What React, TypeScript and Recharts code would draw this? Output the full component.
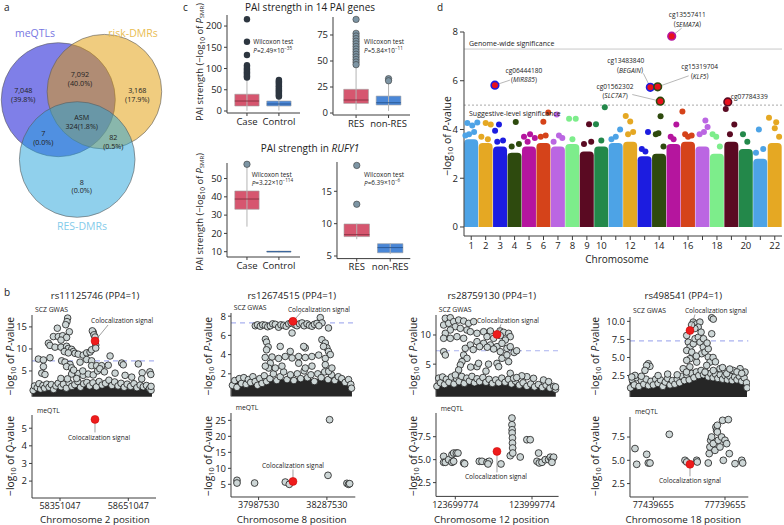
import React from 'react';
import {
  ComposedChart, ScatterChart, Scatter, XAxis, YAxis, Bar, Cell, Area,
  ReferenceLine, ReferenceArea,
} from 'recharts';

const FONT = '"Open Sans", "Noto Sans", "DejaVu Sans", sans-serif';
const AX = '#3c3c3c';
const TXT = '#222';

// ---------------- Panel a: Venn ----------------
const vennSets = ['meQTLs', 'risk-DMRs', 'RES-DMRs'];
const vennCx = [58.3, 104.4, 77.2];
const vennCy = [99.7, 91.7, 159.5];
const vennR = [57, 57.3, 57.8];
const vennFill = ['#0000d2', '#e19900', '#21a1d9'];
const vennNameColor = ['#7676e2', '#e9bd52', '#84cbea'];
const vennLine1 = ['7,048', '7,092', '3,168', 'ASM', '7', '82', '8'];
const vennLine2 = ['(39.8%)', '(40.0%)', '(17.9%)', '324(1.8%)', '(0.0%)', '(0.5%)', '(0.0%)'];
// annotation layout (chart is 1 unit = 1 px)
const vennNamePos = [[35, 33], [133, 33], [82, 226]];
const vennTextPos = [[23.3, 90], [80, 74.3], [137.3, 90], [81.7, 117.3], [43.3, 133.3], [113.3, 137.3], [81.7, 181.7]];

// ---------------- Panel c: box plots ----------------
const caseCtrl = ['Case', 'Control'];
const resNon = ['RES', 'non-RES'];
// [min, q1, median, q3, max]
const pai14CCStats = [[0.5, 11.8, 23.5, 39.5, 77], [1, 11.8, 16.5, 23.5, 33]];
const pai14CCOut = [[216, 163, 132, 108, 104, 100, 97, 94, 91, 88, 85, 82, 79], [73, 70, 67, 64, 61, 58, 55, 52, 49, 46, 43, 40, 37, 34]];
const pai14RNStats = [[3, 9.3, 12.5, 22.8, 44], [2, 7.7, 9.9, 16.3, 28]];
const pai14RNOut = [[90, 76.6, 74, 71.5, 69, 66.5, 64, 61.5, 59, 56.5, 54, 51.5, 49, 46.5], [33, 31]];
const rufyCCStats = [[23.7, 33.2, 38.8, 43.2, 56.4], [9.6, 9.8, 10.0, 10.3, 10.5]];
const rufyCCOut = [[57.8], []];
const rufyRNStats = [[7.6, 8.0, 8.3, 9.95, 10.0], [5.3, 5.5, 6.3, 6.9, 7.0]];
const rufyRNOut = [[19.0, 13.0], []];
const wilcoxP = [['2.49', '−35'], ['5.84', '−11'], ['3.22', '−114'], ['6.39', '−6']];

// ---------------- Panel d: Manhattan ----------------
const chromosomes = ['1', '2', '3', '4', '5', '6', '7', '8', '9', '10', '11', '12', '13', '14', '15', '16', '17', '18', '19', '20', '21', '22'];
const chrDenseTop = [3.6, 3.45, 3.3, 3.05, 3.3, 3.45, 3.3, 3.4, 3.1, 3.3, 3.45, 3.5, 2.9, 3.0, 3.4, 3.5, 3.3, 3.0, 3.5, 3.2, 2.8, 3.45];
const chrPalette = ['#4da3e6', '#e5a823', '#1c1ce0', '#2e4a0e', '#b5159e', '#d5431a', '#bb66e2', '#7ded8b', '#5a0a22', '#23884a'];
// [chromosome, relative position within chromosome, -log10 P]
const manhattanPts = [
  [1, 0.23, 4.27], [1, 0.57, 4.16], [1, 0.92, 4.29], [1, 0.35, 3.8], [1, 0.7, 3.9], [1, 0.1, 3.75],
  [2, 0.5, 4.27], [2, 0.85, 4.2], [2, 0.2, 3.7], [2, 0.65, 3.6],
  [3, 0.42, 4.2], [3, 0.15, 3.95], [3, 0.7, 3.55], [3, 0.3, 3.5],
  [4, 0.58, 4.31], [4, 0.3, 3.3], [4, 0.8, 3.4],
  [5, 0.57, 3.8], [5, 0.15, 3.7], [5, 0.9, 3.65], [5, 0.4, 3.5],
  [6, 0.83, 4.7], [6, 0.49, 4.32], [6, 0.31, 3.7], [6, 0.65, 3.75],
  [7, 0.42, 4.61], [7, 0.57, 3.75], [7, 0.8, 3.65], [7, 0.2, 3.5],
  [8, 0.27, 4.44], [8, 0.73, 4.44], [8, 0.5, 3.6],
  [9, 0.65, 4.22], [9, 0.3, 3.4], [9, 0.8, 3.5],
  [10, 0.74, 4.91], [10, 0.13, 4.22], [10, 0.5, 3.55],
  [11, 0.5, 3.7], [11, 0.8, 4.0], [11, 0.2, 3.6],
  [12, 0.19, 4.55], [12, 0.5, 4.33], [12, 0.7, 3.9], [12, 0.35, 3.8],
  [13, 0.73, 3.9], [13, 0.3, 3.2], [13, 0.55, 3.1],
  [14, 0.6, 4.54], [14, 0.27, 3.8], [14, 0.45, 3.85], [14, 0.8, 3.3],
  [15, 0.69, 4.2], [15, 0.3, 3.7], [15, 0.5, 3.6],
  [16, 0.11, 4.74], [16, 0.3, 3.8], [16, 0.5, 3.7], [16, 0.75, 3.75],
  [17, 0.7, 4.37], [17, 0.3, 3.8], [17, 0.6, 3.9], [17, 0.85, 4.1],
  [18, 0.2, 3.8], [18, 0.45, 3.7], [18, 0.7, 3.3],
  [19, 0.11, 4.84], [19, 0.7, 4.2], [19, 0.4, 3.8],
  [20, 0.3, 3.8], [20, 0.6, 3.5],
  [21, 0.4, 4.0], [21, 0.7, 3.2], [21, 0.2, 3.05],
  [22, 0.1, 4.48], [22, 0.5, 4.05], [22, 0.6, 4.3], [22, 0.8, 3.7],
];
const hlProbe = ['cg13557411', 'cg06444180', 'cg13483840', 'cg15319704', 'cg01562302', 'cg07784339'];
const hlGene = ['SEMA7A', 'MIR885', 'BEGAIN', 'KLF5', 'SLC7A7', ''];
const hlChr = [15, 3, 13, 14, 14, 19];
const hlRel = [0.37, 0.14, 0.89, 0.4, 0.58, 0.25];
const hlVal = [7.83, 5.82, 5.73, 5.75, 5.16, 5.13];
// label layout offsets in px: probe text, gene text, leader end, anchor
const hlLayout = [
  { px: 15.6, py: -21.8, gx: 15.6, gy: -12.6, lx: 10, ly: -8, a: 'middle' },
  { px: 29, py: -15, gx: 29, gy: -5.8, lx: 15, ly: -5, a: 'middle' },
  { px: -24.6, py: -27, gx: -20.3, gy: -17.8, lx: -7, ly: -14, a: 'middle' },
  { px: 42, py: -20.4, gx: 42, gy: -11.2, lx: 31, ly: -11, a: 'middle' },
  { px: -45.3, py: -15.2, gx: -45.3, gy: -6, lx: -28, ly: -6.7, a: 'middle' },
  { px: 3, py: -5.6, gx: 3, gy: -5.6, lx: 0, ly: 0, a: 'start' },
];
const GWS = 7.3;
const SUGG = 5;

// ---------------- Panel b: colocalization loci ----------------
const locusIds = ['rs11125746', 'rs12674515', 'rs28759130', 'rs498541'];
const locusChr = [2, 8, 12, 18];
const locusBase = [58351047, 37987530, 123699774, 77439655];
const gwasTicks = [[0, 5, 10, 15], [0, 2, 4, 6, 8], [0, 5, 10], [0, 2.5, 5, 7.5, 10]];
const qtlTicks = [[2, 3, 4, 5], [5, 10, 15, 20, 25], [2.5, 5, 7.5], [2.5, 5, 7.5]];
const gwasDec = [0, 0, 0, 1];
const qtlDec = [0, 0, 1, 1];
// x in kb relative to the first labelled position
const gwasLead = [[154, 11.8], [151, 7.46], [163, 10.1], [153.5, 8.73]];
const qtlLead = [[153.7, 5.5], [151, 5.9], [163, 5.9], [153.5, 4.57]];

const gwasSparse = [
  [[33.6, 17.0], [30.7, 16.2], [25, 15.5], [-11.7, 14.7], [41, 13.9], [-29, 12.8], [-7.3, 12.8], [11.7, 13.0], [29, 12.6], [4.4, 12.0], [-51, 11.3], [-44, 10.8], [-22, 10.4], [4.4, 10.4], [29, 10.6], [36.5, 10.1], [51, 9.9], [58.5, 9.4], [66, 9.0], [80, 8.8], [19, 9.4], [36.5, 9.1], [102, 8.6], [117, 9.1], [132, 9.3], [139, 9.8], [146, 13.8], [142, 14.1], [149, 13.2], [154, 12.7], [157, 10.9], [157, 10.2], [-95, 7.7], [-73, 7.5], [-44, 8.0], [-73, 6.0], [-80, 4.5], [7.3, 7.3], [22, 7.0], [44, 6.5], [29, 6.0], [51, 5.7], [88, 7.0], [117, 7.6], [139, 7.3], [139, 6.2], [161, 6.2], [183, 6.2], [212, 6.3], [220, 8.4], [271, 6.8], [278, 6.4], [344, 6.6], [361, 4.6], [395, 4.8], [399, 4.2], [51, 4.3], [80, 4.4], [102, 4.0], [124, 4.3], [146, 4.1], [4, 3.3], [33, 3.2], [73, 3.3], [242, 4.5], [286, 4.0], [315, 3.6], [359, 3.2], [-66, 4.2], [165, 5.0], [175, 5.5], [195, 4.8], [60, 5.2], [100, 5.0]],
  [[-14.5, 7.0], [-5, 7.1], [7.5, 6.95], [18, 7.1], [29.4, 7.05], [40, 6.9], [51.4, 7.0], [62, 7.2], [73.4, 7.15], [87.8, 6.85], [98, 7.1], [110, 7.05], [121, 6.95], [132, 7.2], [143, 7.3], [160, 7.1], [168.6, 7.0], [180, 7.2], [190.6, 7.3], [200, 7.0], [212.6, 7.2], [223, 7.05], [234.5, 6.95], [245, 7.15], [256.5, 7.25], [271, 7.85], [278.5, 7.3], [265, 7.0], [307, 6.77], [147, 6.25], [30, 5.6], [35, 5.3], [42, 4.8], [35, 4.5], [95, 4.85], [139, 4.33], [205, 4.7], [198, 4.85], [278, 5.55], [293, 5.2], [300, 4.7], [307, 4.33], [315, 4.0], [285, 4.85], [29, 3.7], [59, 3.75], [88, 3.6], [117, 3.8], [147, 3.65], [176, 3.8], [205, 3.7], [234, 3.8], [264, 3.95], [293, 3.6], [51.4, 3.1], [44, 2.6], [29.4, 2.8], [73.4, 2.6], [102.6, 2.8], [176, 3.1], [205, 2.6], [234.5, 2.8], [293, 2.95], [307.7, 2.26], [322, 2.6]],
  [[-39, 12.86], [-19.6, 12.97], [-45.6, 11.71], [-26, 12.0], [-6.5, 12.29], [13, 12.57], [32.6, 12.4], [52, 12.0], [71.7, 12.29], [0, 11.43], [19.6, 11.14], [45.6, 10.86], [-19.6, 10.86], [-39, 10.29], [-45.6, 9.43], [-19.6, 9.43], [6.5, 9.71], [32.6, 9.43], [58.7, 10.57], [84.8, 10.29], [110.8, 10.57], [137, 10.69], [175, 10.7], [189, 10.46], [208.6, 10.29], [215, 9.71], [124, 9.71], [150, 9.43], [176, 9.89], [195.6, 9.14], [84.8, 8.86], [110.8, 8.57], [137, 8.29], [163, 8.0], [182.6, 8.57], [202, 7.71], [215, 8.0], [58.7, 8.29], [39, 7.71], [32.6, 6.57], [45.6, 6.0], [26, 5.43], [19.6, 4.86], [13, 4.0], [0, 3.14], [84.8, 4.57], [91, 5.14], [176, 7.14], [182.6, 6.0], [202, 6.57], [208.6, 5.43], [-45.6, 7.14], [-39, 6.57], [163, 5.14], [169.5, 4.57], [215, 3.43], [228, 2.57], [150, 7.6], [125, 7.9], [95, 8.0], [70, 7.5], [230, 7.0], [240, 7.3], [130, 5.0], [60, 4.5], [120, 3.8], [280, 2.85], [306, 2.57], [345, 2.29], [365, 2.0], [260, 3.0], [240, 2.7]],
  [[244, 10.5], [251, 10.3], [167, 9.9], [181, 9.65], [195, 9.9], [188, 9.2], [174, 9.0], [139.7, 8.04], [146.5, 7.12], [153.5, 6.43], [139.7, 5.97], [160.7, 5.74], [167.4, 6.9], [174.5, 7.59], [188.3, 7.8], [195.4, 7.12], [209.2, 6.43], [202.5, 5.52], [216.3, 5.74], [230, 5.05], [244.4, 8.28], [237.2, 4.36], [223.4, 3.9], [216.3, 2.98], [181.6, 4.36], [153.5, 4.83], [139.7, 4.6], [-21, 4.14], [-14, 3.77], [-28, 3.9], [-35, 3.21], [-76.6, 2.52], [251, 3.2], [279, 3.45], [307, 2.76], [335, 3.2], [363, 3.45], [384, 2.98], [153, 3.7], [125, 3.45], [139, 2.98], [160, 9.5], [200, 8.5], [210, 7.6], [180, 5.2], [230, 6.2], [250, 5.0], [260, 4.4], [290, 3.6], [320, 3.4], [350, 3.0], [370, 2.8], [100, 2.6], [60, 2.7], [20, 2.5], [-50, 2.4], [-90, 2.3], [225, 7.0]],
];
const gwasEdge = [
  [[-118, 0.6], [-112, 1.6], [-100, 1.2], [-92, 2.1], [-85, 0.9], [-75, 1.7], [-68, 1.1], [-58, 2.0], [-48, 1.3], [-38, 1.9], [-28, 0.8], [-18, 1.6], [-8, 2.2], [5, 1.4], [15, 2.0], [28, 1.1], [40, 2.3], [52, 1.5], [65, 1.9], [78, 2.6], [90, 1.3], [104, 2.1], [118, 2.4], [130, 1.6], [145, 2.3], [160, 1.4], [172, 2.6], [185, 1.8], [200, 2.2], [215, 2.9], [228, 1.7], [240, 2.5], [255, 1.6], [268, 2.2], [282, 1.3], [295, 2.0], [310, 1.5], [325, 2.1], [338, 1.2], [352, 1.8], [366, 1.4], [380, 1.7], [393, 1.0], [400, 0.6], [400, 1.5]],
  [[-115, 0.8], [-105, 1.3], [-95, 0.6], [-85, 1.5], [-75, 1.0], [-65, 1.6], [-55, 0.9], [-45, 1.4], [-35, 1.1], [-25, 1.7], [-15, 1.2], [-5, 0.8], [5, 1.5], [15, 1.0], [25, 1.8], [35, 1.2], [50, 1.5], [65, 2.0], [80, 1.3], [95, 1.7], [110, 2.2], [125, 1.4], [140, 1.9], [155, 1.3], [170, 2.0], [185, 1.5], [200, 2.3], [215, 1.6], [230, 1.9], [245, 1.2], [260, 2.0], [275, 1.6], [290, 2.2], [305, 1.4], [320, 1.9], [335, 1.3], [350, 1.7], [365, 1.5], [380, 1.1], [395, 1.4], [405, 0.9], [408, 0.5]],
  [[-72, 1.2], [-65, 2.6], [-58, 1.8], [-50, 2.8], [-42, 1.5], [-35, 2.4], [-25, 1.9], [-15, 2.8], [-5, 1.6], [5, 2.5], [15, 2.0], [25, 2.9], [35, 1.7], [45, 2.6], [55, 2.1], [65, 2.9], [75, 1.8], [85, 2.5], [95, 2.0], [108, 2.7], [120, 1.9], [132, 2.4], [145, 1.7], [158, 2.3], [170, 1.8], [182, 2.6], [195, 1.9], [208, 2.4], [220, 1.6], [235, 2.1], [250, 1.4], [265, 1.8], [280, 1.2], [295, 1.6], [310, 1.1], [325, 1.5], [340, 1.0], [355, 1.4], [370, 0.9], [385, 1.2], [392, 0.7], [392, 1.1]],
  [[-95, 0.8], [-88, 1.9], [-80, 1.2], [-70, 2.2], [-60, 1.0], [-50, 1.8], [-40, 1.3], [-30, 2.0], [-20, 1.1], [-10, 1.7], [0, 1.2], [10, 2.0], [20, 1.4], [30, 1.9], [40, 1.0], [50, 1.6], [60, 2.1], [70, 1.2], [80, 1.8], [90, 1.3], [100, 2.0], [110, 1.5], [120, 2.4], [130, 1.8], [140, 2.6], [150, 1.9], [160, 2.8], [170, 2.2], [180, 3.0], [190, 2.5], [200, 3.2], [210, 2.6], [220, 2.9], [230, 2.3], [240, 2.8], [250, 2.2], [260, 2.7], [270, 2.1], [280, 2.6], [290, 2.0], [300, 2.5], [310, 1.9], [320, 2.4], [330, 1.8], [340, 2.3], [350, 1.9], [360, 2.4], [370, 1.7], [380, 2.2], [390, 1.5], [392, 0.8]],
];
const gwasBandTop = [
  [[-122, 1.5], [-90, 1.7], [-50, 1.6], [-10, 1.8], [30, 1.9], [70, 2.0], [110, 2.0], [150, 2.1], [190, 2.3], [230, 2.3], [270, 2.0], [310, 1.8], [350, 1.7], [390, 1.3], [404, 1.0]],
  [[-120, 1.1], [-60, 1.2], [0, 1.1], [60, 1.3], [120, 1.4], [180, 1.5], [240, 1.4], [300, 1.5], [360, 1.3], [410, 1.0]],
  [[-75, 1.6], [0, 1.8], [60, 1.9], [120, 1.8], [180, 1.8], [230, 1.5], [280, 1.0], [340, 0.9], [393, 0.8]],
  [[-97, 1.4], [0, 1.3], [60, 1.4], [120, 1.8], [170, 2.3], [200, 2.5], [250, 2.1], [300, 1.9], [350, 1.8], [392, 1.4]],
];
const qtlPts = [
  [],
  [[-94.9, 6.25], [-94.9, 5.4], [-17.6, 5.4], [117.3, 5.7], [134.8, 5.0], [304.8, 7.8], [311.8, 25.2], [388, 5.3], [395, 5.0], [400, 5.2]],
  [[-45.6, 5.36], [-45.6, 4.71], [-39, 4.71], [-26, 5.0], [-13, 5.54], [-6.5, 5.72], [4, 5.72], [10.4, 5.72], [-13, 4.71], [-6.5, 4.82], [32.6, 4.64], [36.5, 4.56], [93.9, 4.82], [104.3, 4.82], [124, 4.71], [133, 4.82], [128, 4.53], [178.7, 4.53], [215, 5.43], [221.6, 9.53], [221.6, 8.8], [222.3, 8.26], [222.3, 7.9], [223.6, 7.36], [223.6, 6.8], [224.3, 6.27], [224.9, 5.72], [254, 5.29], [280, 7.17], [293, 7.17], [319.5, 4.82], [325.8, 5.72], [328.5, 4.64], [339, 4.71], [352, 5.0], [365, 5.0], [371.6, 5.27], [378, 5.0], [384.5, 5.27], [378, 4.71]],
  [[-76.6, 6.26], [-69.5, 4.57], [-27.6, 5.64], [-20.9, 4.71], [-13.8, 4.71], [67, 7.79], [132.6, 5.0], [139.7, 4.82], [181.6, 5.0], [184, 4.82], [230, 4.71], [234, 5.72], [237, 6.43], [240, 7.15], [244, 7.5], [251, 6.79], [258, 6.07], [262, 8.57], [265, 8.22], [268, 8.04], [268, 8.76], [272, 7.15], [279, 6.43], [286, 7.5], [290, 9.29], [293, 5.0], [300, 7.15], [307, 6.79], [314, 9.37], [318, 5.72], [342, 4.64], [370, 5.0], [374, 4.71]],
];
const COLOC = 'Colocalization signal';

// layout of the locus plots (pixel frames) and their axis ranges
const LOC = [
  { x0: 32, x1: 156, gy0: 315, gy1: 396.7, qy0: 415, qy1: 498, xDom: [-123, 421.7], gDom: [-0.84, 17.7], qDom: [1.04, 5.75], tx: 95, yt: 10 },
  { x0: 230.7, x1: 355, gy0: 313.3, gy1: 396.7, qy0: 412.7, qy1: 496.7, xDom: [-121.2, 424.7], gDom: [-0.35, 8.33], qDom: [1.03, 27.3], tx: 291.7, yt: 207.5 },
  { x0: 435.7, x1: 558.3, gy0: 315, gy1: 396.7, qy0: 413.3, qy1: 496.7, xDom: [-75.5, 404], gDom: [-0.58, 13.43], qDom: [1.0, 10.08], tx: 491.7, yt: 413.3 },
  { x0: 630, x1: 748.3, gy0: 316.7, gy1: 396.7, qy0: 416.7, qy1: 496.7, xDom: [-97.5, 397.5], gDom: [-0.47, 10.6], qDom: [1.06, 9.65], tx: 683.3, yt: 595 },
];
const topOff = [
  { tx: 27, ty: -20, lx: 13, ly: -16 },
  { tx: 26, ty: -12, lx: 8, ly: -9 },
  { tx: 11, ty: -14, lx: 4, ly: -10 },
  { tx: 26, ty: -20, lx: 5, ly: -16 },
];
const botOff = [
  { tx: 4, ty: 18, lx: 0, ly: 13 },
  { tx: 0, ty: -16, lx: 0, ly: -12 },
  { tx: -1, ty: 25, lx: 0, ly: 21 },
  { tx: 0, ty: 16, lx: 0, ly: 12 },
];

const tickStyle = (fs: number) => ({ fontSize: fs, fill: TXT, fontFamily: FONT });

const greyDot = (r: number) => (p: any) => (
  <circle cx={p.cx} cy={p.cy} r={r} fill="#cdd6d6" stroke="#1c1c1c" strokeWidth={0.8} />
);

const leadShape = (off: any) => (p: any) => (
  <g>
    <line x1={p.cx} y1={p.cy} x2={p.cx + off.lx} y2={p.cy + off.ly} stroke="#777" strokeWidth={0.7} />
    <circle cx={p.cx} cy={p.cy} r={4} fill="#ee1c1c" stroke="#c80000" strokeWidth={0.5} />
    <text x={p.cx + off.tx} y={p.cy + off.ty} textAnchor="middle" dominantBaseline="central" fontSize={6.6} fill={TXT} fontFamily={FONT}>{COLOC}</text>
  </g>
);

const toXY = (arr: number[][]) => arr.map(([x, y]) => ({ x, y }));

function LocusTop({ i }: { i: number }) {
  const c = LOC[i];
  const Wy = 30, mt = 14, mr = 2, mb = 1;
  const w = c.x1 - c.x0 + Wy + mr;
  const h = c.gy1 - c.gy0 + mt + mb;
  const pts = toXY([...gwasEdge[i], ...gwasSparse[i]]);
  return (
    <div style={{ position: 'absolute', left: c.x0 - Wy, top: c.gy0 - mt }}>
      <ComposedChart width={w} height={h} data={toXY(gwasBandTop[i])} margin={{ top: mt, right: mr, left: 0, bottom: mb }}>
        <XAxis type="number" dataKey="x" domain={c.xDom} hide />
        <YAxis type="number" domain={c.gDom} ticks={gwasTicks[i]} width={Wy} tickSize={3}
          tickFormatter={(v: number) => v.toFixed(gwasDec[i])} tick={tickStyle(9.5)} axisLine={{ stroke: AX }} tickLine={{ stroke: AX }} />
        <Area dataKey="y" type="monotone" baseValue="dataMin" fill="#262626" fillOpacity={1} stroke="#1a1a1a" isAnimationActive={false} />
        <ReferenceLine y={GWS} stroke="#aab2f0" strokeDasharray="5 4" strokeWidth={1.2} />
        <Scatter data={pts} dataKey="y" isAnimationActive={false} shape={greyDot(3.3)} />
        <Scatter data={toXY([gwasLead[i]])} dataKey="y" isAnimationActive={false} shape={leadShape(topOff[i])} />
      </ComposedChart>
    </div>
  );
}

function LocusBottom({ i }: { i: number }) {
  const c = LOC[i];
  const Wy = 30, mt = 3, mr = 2, Hx = 16;
  const w = c.x1 - c.x0 + Wy + mr;
  const h = c.qy1 - c.qy0 + mt + Hx;
  return (
    <div style={{ position: 'absolute', left: c.x0 - Wy, top: c.qy0 - mt }}>
      <ComposedChart width={w} height={h} margin={{ top: mt, right: mr, left: 0, bottom: 0 }}>
        <XAxis type="number" dataKey="x" domain={c.xDom} ticks={[0, 300]} height={Hx} tickSize={3}
          tickFormatter={(v: number) => String(locusBase[i] + v * 1000)} tick={tickStyle(9)} axisLine={{ stroke: AX }} tickLine={{ stroke: AX }} />
        <YAxis type="number" domain={c.qDom} ticks={qtlTicks[i]} width={Wy} tickSize={3}
          tickFormatter={(v: number) => v.toFixed(qtlDec[i])} tick={tickStyle(9.5)} axisLine={{ stroke: AX }} tickLine={{ stroke: AX }} />
        <Scatter data={toXY(qtlPts[i])} dataKey="y" isAnimationActive={false} shape={greyDot(3.4)} />
        <Scatter data={toXY([qtlLead[i]])} dataKey="y" isAnimationActive={false} shape={leadShape(botOff[i])} />
      </ComposedChart>
    </div>
  );
}

function BoxPanel(props: any) {
  const { px0, py0, px1, py1, xDomain, yDomain, yTicks, cats, stats, outliers, dark } = props;
  const Wy = 26, mt = 4, Hx = 20, mr = 2;
  const BW = 0.38;
  const fills = ['#d6566f', '#4a87d7'];
  const meds = ['#8e3345', '#2c5a96'];
  const outData = outliers.flatMap((arr: number[], k: number) => arr.map((v) => ({ x: k + 1, y: v })));
  return (
    <div style={{ position: 'absolute', left: px0 - Wy, top: py0 - mt }}>
      <ComposedChart width={px1 - px0 + Wy + mr} height={py1 - py0 + mt + Hx} margin={{ top: mt, right: mr, left: 0, bottom: 0 }}>
        <XAxis type="number" dataKey="x" domain={xDomain} ticks={[1, 2]} height={Hx} tickSize={3}
          tickFormatter={(v: number) => cats[v - 1]} tick={tickStyle(9.5)} axisLine={{ stroke: AX }} tickLine={{ stroke: AX }} />
        <YAxis type="number" domain={yDomain} ticks={yTicks} width={Wy} tickSize={3}
          tick={tickStyle(9.5)} axisLine={{ stroke: AX }} tickLine={{ stroke: AX }} />
        {stats.map((s: number[], k: number) => (
          <ReferenceLine key={'w' + k} segment={[{ x: k + 1, y: s[0] }, { x: k + 1, y: s[4] }]} stroke="#b4b4b4" strokeWidth={1} />
        ))}
        {stats.map((s: number[], k: number) => (
          <ReferenceArea key={'b' + k} x1={k + 1 - BW} x2={k + 1 + BW} y1={s[1]} y2={s[3]} fill={fills[k]} fillOpacity={1} stroke="#9d9d9d" strokeWidth={0.6} />
        ))}
        {stats.map((s: number[], k: number) => (
          <ReferenceLine key={'m' + k} segment={[{ x: k + 1 - BW, y: s[2] }, { x: k + 1 + BW, y: s[2] }]} stroke={meds[k]} strokeWidth={1} />
        ))}
        <Scatter data={outData} dataKey="y" isAnimationActive={false}
          shape={(p: any) => dark
            ? <circle cx={p.cx} cy={p.cy} r={3.2} fill="#2d3640" />
            : <circle cx={p.cx} cy={p.cy} r={3.2} fill="#7d95a4" stroke="#3a3a3a" strokeWidth={0.6} />} />
      </ComposedChart>
    </div>
  );
}

function Venn() {
  const circles = vennSets.map((n, k) => ({ x: vennCx[k], y: vennCy[k], r: vennR[k], k }));
  const names = vennSets.map((n, k) => ({ x: vennNamePos[k][0], y: vennNamePos[k][1], t: n, k }));
  const counts = vennLine1.map((t, k) => ({ x: vennTextPos[k][0], y: vennTextPos[k][1], t, t2: vennLine2[k] }));
  return (
    <div style={{ position: 'absolute', left: 0, top: 0 }}>
      <ScatterChart width={230} height={250} margin={{ top: 0, right: 0, left: 0, bottom: 0 }}>
        <XAxis type="number" dataKey="x" domain={[0, 230]} hide />
        <YAxis type="number" dataKey="y" domain={[0, 250]} reversed hide />
        <Scatter data={circles} isAnimationActive={false}
          shape={(p: any) => <circle cx={p.cx} cy={p.cy} r={p.payload.r} fill={vennFill[p.payload.k]} fillOpacity={0.5} stroke="#5a5a5a" strokeWidth={0.6} />} />
        <Scatter data={names} isAnimationActive={false}
          shape={(p: any) => <text x={p.cx} y={p.cy} textAnchor="middle" dominantBaseline="central" fontSize={10.5} fill={vennNameColor[p.payload.k]} fontFamily={FONT}>{p.payload.t}</text>} />
        <Scatter data={counts} isAnimationActive={false}
          shape={(p: any) => (
            <g>
              <text x={p.cx} y={p.cy} textAnchor="middle" dominantBaseline="central" fontSize={7.2} fill={TXT} fontFamily={FONT}>{p.payload.t}</text>
              <text x={p.cx} y={p.cy + 8.7} textAnchor="middle" dominantBaseline="central" fontSize={7.2} fill={TXT} fontFamily={FONT}>{p.payload.t2}</text>
            </g>
          )} />
      </ScatterChart>
    </div>
  );
}

const chrColor = (k: number) => chrPalette[k % chrPalette.length];

function Manhattan() {
  const Wy = 30, mt = 32, mr = 2, Hx = 16;
  const px0 = 464, px1 = 782, py0 = 32, py1 = 236;
  const data = chromosomes.map((c, k) => ({ chr: c, top: chrDenseTop[k] }));
  const pts = manhattanPts.map(([c, r, v]) => ({ x: c - 0.5 + r, y: v, c }));
  const hl = hlProbe.map((p, k) => ({ x: hlChr[k] - 0.5 + hlRel[k], y: hlVal[k], k }));
  return (
    <div style={{ position: 'absolute', left: px0 - Wy, top: py0 - mt }}>
      <ComposedChart width={px1 - px0 + Wy + mr} height={py1 - py0 + mt + Hx} data={data} barCategoryGap="1%"
        margin={{ top: mt, right: mr, left: 0, bottom: 0 }}>
        <XAxis dataKey="chr" type="category" interval={0} height={Hx} tickSize={4}
          tickFormatter={(v: string) => (Number(v) <= 10 || Number(v) % 2 === 0 ? v : '')}
          tick={tickStyle(9.5)} axisLine={{ stroke: AX }} tickLine={{ stroke: AX }} />
        <XAxis xAxisId="num" type="number" dataKey="x" domain={[0.5, 22.5]} hide />
        <YAxis type="number" domain={[-0.37, 8]} ticks={[0, 2, 4, 6, 8]} width={Wy} tickSize={4}
          tick={tickStyle(9.5)} axisLine={{ stroke: AX }} tickLine={{ stroke: AX }} />
        <ReferenceLine y={GWS} stroke="#c8c8c8" strokeWidth={1} />
        <ReferenceLine y={SUGG} stroke="#a8a8a8" strokeDasharray="2 2" strokeWidth={1} />
        <Bar dataKey="top" isAnimationActive={false} radius={[4, 4, 0, 0]}>
          {data.map((d, k) => <Cell key={k} fill={chrColor(k)} />)}
        </Bar>
        <Scatter xAxisId="num" data={pts} dataKey="y" isAnimationActive={false}
          shape={(p: any) => <circle cx={p.cx} cy={p.cy} r={3} fill={chrColor(p.payload.c - 1)} />} />
        <Scatter xAxisId="num" data={hl} dataKey="y" isAnimationActive={false}
          shape={(p: any) => {
            const k = p.payload.k;
            const L = hlLayout[k];
            return (
              <g>
                {L.lx !== 0 && <line x1={p.cx} y1={p.cy} x2={p.cx + L.lx} y2={p.cy + L.ly} stroke="#9a9a9a" strokeWidth={0.7} />}
                <circle cx={p.cx} cy={p.cy} r={3.8} fill="#e8101c" stroke={chrColor(hlChr[k] - 1)} strokeWidth={1.6} />
                <text x={p.cx + L.px} y={p.cy + L.py} textAnchor={L.a} dominantBaseline="central" fontSize={6.6} fill={TXT} fontFamily={FONT}>{hlProbe[k]}</text>
                {hlGene[k] && (
                  <text x={p.cx + L.gx} y={p.cy + L.gy} textAnchor={L.a} dominantBaseline="central" fontSize={6.6} fill={TXT} fontFamily={FONT}>
                    (<tspan fontStyle="italic">{hlGene[k]}</tspan>)
                  </text>
                )}
              </g>
            );
          }} />
      </ComposedChart>
    </div>
  );
}

function LogTitle({ x, y, kind, fs = 10.5 }: any) {
  return (
    <text transform={`rotate(-90 ${x} ${y})`} x={x} y={y} textAnchor="middle" dominantBaseline="central" fontSize={fs} fill={TXT} fontFamily={FONT}>
      −log<tspan dy={3} fontSize={fs * 0.7}>10</tspan><tspan dy={-3}> of </tspan><tspan fontStyle="italic">{kind}</tspan>-value
    </text>
  );
}

function PaiTitle({ x, y }: any) {
  const fs = 9.3;
  return (
    <text transform={`rotate(-90 ${x} ${y})`} x={x} y={y} textAnchor="middle" dominantBaseline="central" fontSize={fs} fill={TXT} fontFamily={FONT}>
      PAI strength (−log<tspan dy={3} fontSize={6.5}>10</tspan><tspan dy={-3}> of </tspan><tspan fontStyle="italic">P</tspan><tspan dy={3} fontSize={6}>SMR</tspan><tspan dy={-3}>)</tspan>
    </text>
  );
}

function Wilcox({ x, y, k }: any) {
  return (
    <g fontFamily={FONT} fill={TXT} fontSize={6.4}>
      <text x={x} y={y} dominantBaseline="central">Wilcoxon test</text>
      <text x={x} y={y + 8.6} dominantBaseline="central">
        <tspan fontStyle="italic">P</tspan>={wilcoxP[k][0]}×10<tspan dy={-2.5} fontSize={4.6}>{wilcoxP[k][1]}</tspan>
      </text>
    </g>
  );
}

function Overlay() {
  const letters: any[] = [['a', 4, 7], ['b', 4, 292], ['c', 183, 7], ['d', 437, 7]];
  return (
    <svg width={784} height={525} style={{ position: 'absolute', left: 0, top: 0, pointerEvents: 'none' }}>
      <g fontFamily={FONT} fill={TXT}>
        {letters.map(([t, x, y]) => <text key={t} x={x} y={y} fontSize={10} dominantBaseline="central">{t}</text>)}
        <text x={310} y={7} textAnchor="middle" dominantBaseline="central" fontSize={10}>PAI strength in 14 PAI genes</text>
        <text x={310} y={148} textAnchor="middle" dominantBaseline="central" fontSize={10}>PAI strength in <tspan fontStyle="italic">RUFY1</tspan></text>
        <PaiTitle x={199} y={62} />
        <PaiTitle x={199} y={212} />
        <Wilcox x={253.3} y={41.5} k={0} />
        <Wilcox x={364} y={41.5} k={1} />
        <Wilcox x={251.7} y={174} k={2} />
        <Wilcox x={364} y={174} k={3} />
        <LogTitle x={447} y={136} kind="P" fs={10.5} />
        <text x={617} y={259} textAnchor="middle" dominantBaseline="central" fontSize={10}>Chromosome</text>
        <text x={469} y={43.3} dominantBaseline="central" fontSize={7}>Genome-wide significance</text>
        <text x={469} y={113} dominantBaseline="central" fontSize={7}>Suggestive-level significance</text>
        {LOC.map((c, i) => (
          <g key={i}>
            <text x={c.tx} y={295} textAnchor="middle" dominantBaseline="central" fontSize={9.6}>{locusIds[i]} (PP4=1)</text>
            <text x={c.x0 + 3} y={c.gy0 - 6} dominantBaseline="central" fontSize={6.8}>SCZ GWAS</text>
            <text x={c.x0 + 5} y={c.qy0 - 5} dominantBaseline="central" fontSize={6.8}>meQTL</text>
            <text x={c.tx} y={519} textAnchor="middle" dominantBaseline="central" fontSize={9.8}>Chromosome {locusChr[i]} position</text>
            <LogTitle x={c.yt} y={356} kind="P" fs={10.3} />
            <LogTitle x={c.yt} y={456} kind="Q" fs={10.3} />
          </g>
        ))}
      </g>
    </svg>
  );
}

export default function App() {
  return (
    <div style={{ position: 'absolute', left: 0, top: 0, width: 784, height: 525, background: '#fff', overflow: 'hidden', fontFamily: FONT }}>
      <Venn />
      <BoxPanel px0={227} py0={15} px1={300} py1={113} xDomain={[0.375, 2.66]} yDomain={[-4.7, 226]} yTicks={[0, 50, 100, 150, 200]}
        cats={caseCtrl} stats={pai14CCStats} outliers={pai14CCOut} dark />
      <BoxPanel px0={333} py0={17} px1={410} py1={115} xDomain={[0.29, 2.66]} yDomain={[-1.9, 92.3]} yTicks={[0, 25, 50, 75]}
        cats={resNon} stats={pai14RNStats} outliers={pai14RNOut} />
      <BoxPanel px0={227} py0={163} px1={300} py1={257} xDomain={[0.375, 2.66]} yDomain={[7.1, 58.5]} yTicks={[10, 20, 30, 40, 50]}
        cats={caseCtrl} stats={rufyCCStats} outliers={rufyCCOut} />
      <BoxPanel px0={336.7} py0={161.7} px1={410} py1={258.3} xDomain={[0.41, 2.6]} yDomain={[4.6, 19.53]} yTicks={[5, 10, 15]}
        cats={resNon} stats={rufyRNStats} outliers={rufyRNOut} />
      <Manhattan />
      {LOC.map((c, i) => <LocusTop key={'t' + i} i={i} />)}
      {LOC.map((c, i) => <LocusBottom key={'b' + i} i={i} />)}
      <Overlay />
    </div>
  );
}
